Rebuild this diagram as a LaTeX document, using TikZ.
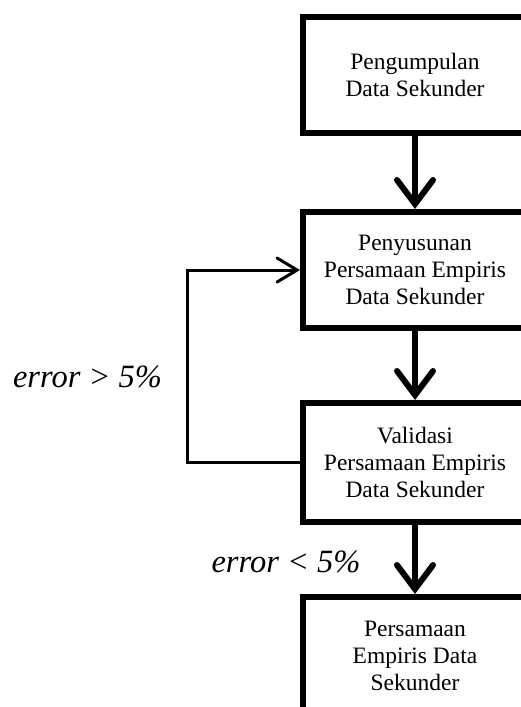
\documentclass[tikz,border=0pt]{standalone}
\usepackage{fontspec}
\setmainfont{Liberation Serif}
\usetikzlibrary{arrows.meta}
\begin{document}
\begin{tikzpicture}[x=1pt,y=-1pt,
  box/.style={draw=black, line width=6pt, line join=miter, minimum width=224pt, align=center, inner sep=0pt,
    font=\fontsize{23.5}{27}\selectfont},
  bigarrow/.style={line width=6pt, -{Straight Barb[length=24pt,width=36pt,line cap=round]}},
  fbarrow/.style={line width=3pt, -{Straight Barb[length=20pt,width=24pt,line cap=round]}},
  lbl/.style={font=\fontsize{32.5}{34}\selectfont\itshape, inner sep=0pt}]
\useasboundingbox (0,0) rectangle (521,707);
\node[box, minimum height=116pt] (b1) at (415,75) {Pengumpulan\\Data Sekunder};
\node[box, minimum height=116pt] (b2) at (415,270) {Penyusunan\\Persamaan Empiris\\Data Sekunder};
\node[box, minimum height=119pt] (b3) at (415,462.5) {Validasi\\Persamaan Empiris\\Data Sekunder};
\node[box, minimum height=118pt] (b4) at (415,656) {Persamaan\\Empiris Data\\Sekunder};
\draw[bigarrow] (b1.south) -- (b2.north);
\draw[bigarrow] (b2.south) -- (b3.north);
\draw[bigarrow] (b3.south) -- (b4.north);
\draw[fbarrow] (b3.west) -- ++(-113,0) |- (b2.west);
\node[lbl] (l1) at (87.5,377) {error > 5\%};
\node[lbl] (l2) at (286,562) {error < 5\%};
\end{tikzpicture}
\end{document}
